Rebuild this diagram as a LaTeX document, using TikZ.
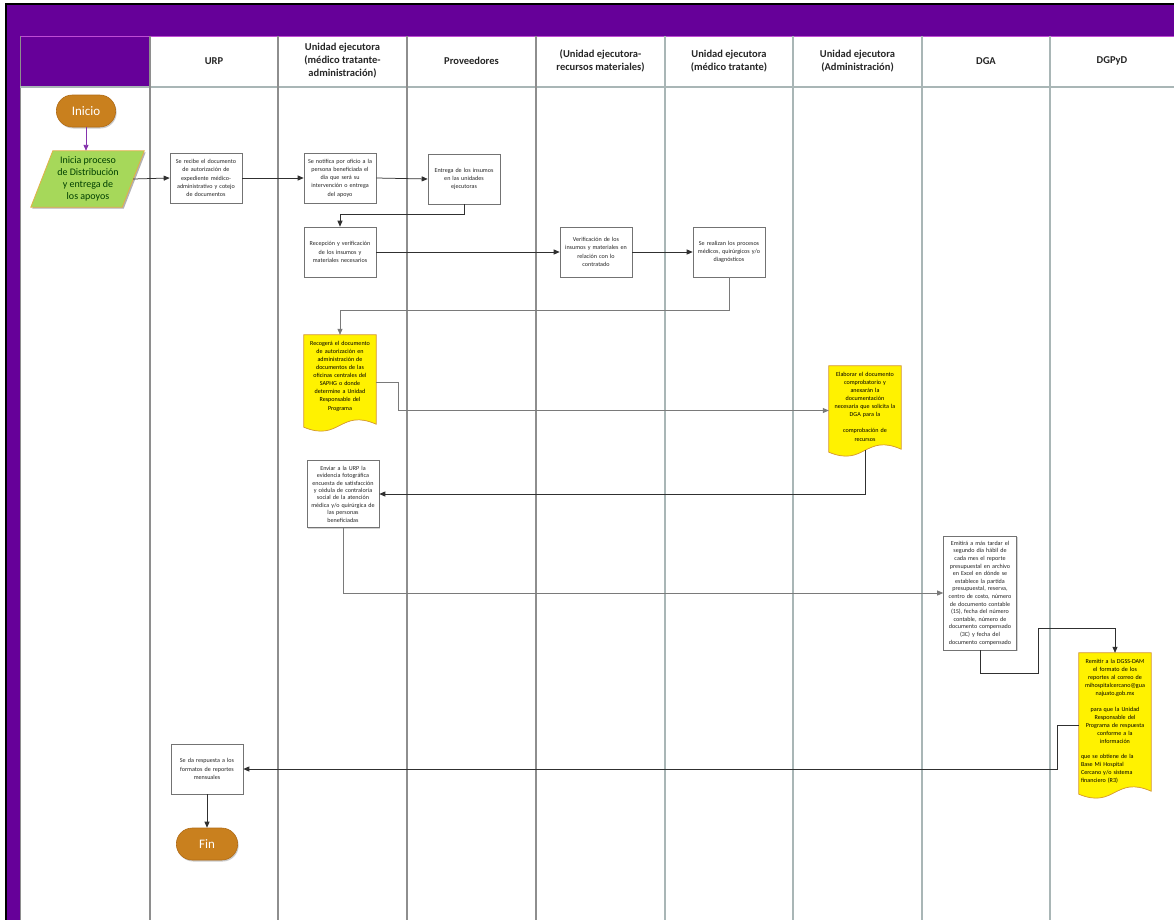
\documentclass[tikz,border=0pt]{standalone}
\usepackage{fontspec}
\setmainfont{Carlito}
\usetikzlibrary{arrows.meta,calc,shadows,shapes.misc}
\definecolor{band}{HTML}{660099}
\definecolor{termfill}{HTML}{C9801E}
\definecolor{termline}{HTML}{B06A14}
\definecolor{iofill}{HTML}{A6D85A}
\definecolor{ioline}{HTML}{E2B04A}
\definecolor{docfill}{HTML}{FFF200}
\definecolor{docline}{HTML}{D89A2E}
\definecolor{laneA}{HTML}{8E8E8E}
\definecolor{laneB}{HTML}{A9B6B6}
\definecolor{conn}{HTML}{303030}
\definecolor{connlight}{HTML}{7A7A7A}
\tikzset{
  lanelineA/.style={draw=laneA, line width=1.3pt},
  lanelineB/.style={draw=laneB, line width=1.3pt},
  hdr/.style={font=\bfseries\fontsize{10.5}{13}\selectfont, align=center, text=black!85},
  term/.style={rounded rectangle, fill=termfill, draw=termline, line width=0.6pt,
    minimum width=66pt, minimum height=32pt, text=white,
    font=\fontsize{13}{15}\selectfont, drop shadow={shadow xshift=1pt, shadow yshift=-1.5pt, fill=black!40}},
  procbox/.style={rectangle, draw=black!55, fill=white, line width=0.6pt,
    minimum width=72pt, minimum height=50pt, inner sep=1pt, align=center,
    text width=68pt, font=\fontsize{6.1}{8.3}\selectfont, text=black!85,
    drop shadow={shadow xshift=1.2pt, shadow yshift=-1.2pt, fill=black!35}},
  docarea/.style={rectangle, inner sep=2pt, align=center, text width=68pt,
    font=\fontsize{6.1}{8.1}\selectfont},
  docshape/.style={fill=docfill, draw=docline, line width=0.7pt},
  docshade/.style={fill=black!30},
  flow/.style={draw=conn, line width=0.75pt, -{Triangle[length=6pt,width=5pt]}},
  flowlight/.style={draw=connlight, line width=0.75pt, -{Triangle[length=6pt,width=5pt]}},
  startflow/.style={draw=band!80, line width=0.9pt, -{Triangle[length=6pt,width=5pt]}},
}
% document outline drawn round a node: S-shaped lower edge
\newcommand{\docoutline}[2][docshape]{%
  \path[#1] (#2.north west) -- (#2.north east) -- ($(#2.south east)+(0,-6)$)
    .. controls ($(#2.south)+(0,-22)$) and ($(#2.south)+(0,12)$) .. ($(#2.south west)+(0,-3)$) -- cycle;}
\begin{document}
\begin{tikzpicture}[x=1pt,y=-1pt]
\useasboundingbox (0,0) rectangle (1174,919);

% outer band and frame
\fill[band] (6,4) rectangle (1176,921);
\draw[black, line width=2.4pt] (6,921) -- (6,4) -- (1176,4);
% swimlane body
\fill[white] (20,36) rectangle (1176,921);
\fill[band] (20,36) rectangle (150,87);
\draw[draw=band!60!magenta!70!white, line width=0.8pt] (20,36) -- (1176,36);
\draw[draw=laneA, line width=0.8pt] (20,36) -- (20,921);
\draw[draw=laneB, line width=1.4pt] (20,87) -- (1176,87);

% lane dividers
\foreach \x in {150,278,407,536}
  \draw[lanelineA] (\x,36) -- (\x,921);
\foreach \x in {665,793,922,1050}
  \draw[lanelineB] (\x,36) -- (\x,921);

% lane headings
\node[hdr] (h1) at (214,61) {URP};
\node[hdr] (h2) at (342.5,61) {Unidad ejecutora\\(médico tratante-\\administración)};
\node[hdr] (h3) at (471.5,61) {Proveedores};
\node[hdr] (h4) at (600.5,61) {(Unidad ejecutora-\\recursos materiales)};
\node[hdr] (h5) at (729,61) {Unidad ejecutora\\(médico tratante)};
\node[hdr] (h6) at (857.5,61) {Unidad ejecutora\\(Administración)};
\node[hdr] (h7) at (986,61) {DGA};
\node[hdr] (h8) at (1112,61) {DGPyD};

% start and input
\node[term] (ini) at (86,111) {Inicio};
\node[rectangle, minimum width=90pt, minimum height=56pt, inner sep=0pt] (inp) at (88,179) {};
\fill[black!30] ($(inp.north west)+(11.5,1.5)$) -- ($(inp.north east)+(12.5,1.5)$)
  -- ($(inp.south east)+(-9.5,1.5)$) -- ($(inp.south west)+(-10.5,1.5)$) -- cycle;
\draw[fill=iofill, draw=ioline, line width=0.8pt]
  ($(inp.north west)+(10,0)$) -- ($(inp.north east)+(11,0)$)
  -- ($(inp.south east)+(-11,0)$) -- ($(inp.south west)+(-12,0)$) -- cycle;
\node[align=center, font=\fontsize{10}{12.2}\selectfont, text=black!75!green] (inptext) at (inp.center)
  {Inicia proceso\\de Distribución\\y entrega de\\los apoyos};

% process steps
\node[procbox] (b1) at (206,178) {Se recibe el documento\\de autorización de\\expediente médico-\\administrativo y cotejo\\de documentos};
\node[procbox] (b2) at (340,178) {Se notifica por oficio a la\\persona beneficiada el\\día que será su\\intervención o entrega\\del apoyo};
\node[procbox] (b3) at (464,179) {Entrega de los insumos\\en las unidades\\ejecutoras\\[4pt]};
\node[procbox] (b4) at (340,252) {Recepción y verificación\\de los insumos y\\materiales necesarios};
\node[procbox] (b5) at (596,252) {Verificación de los\\insumos y materiales en\\relación con lo\\contratado};
\node[procbox] (b6) at (729,252) {Se realizan los procesos\\médicos, quirúrgicos y/o\\diagnósticos\\[4pt]};
\node[procbox, minimum height=67pt, font=\fontsize{6.1}{7.4}\selectfont] (b7) at (343,494)
  {Enviar a la URP la\\evidencia fotográfica\\encuesta de satisfacción\\y cédula de contraloría\\social de la atención\\médica y/o quirúrgica de\\las personas\\beneficiadas};
\node[procbox, minimum width=73pt, minimum height=114pt, font=\fontsize{6.1}{7.6}\selectfont] (b8) at (980,593)
  {Emitirá a más tardar el\\segundo día hábil de\\cada mes el reporte\\presupuestal en archivo\\en Excel en dónde se\\establece la partida\\presupuestal, reserva,\\centro de costo, número\\de documento contable\\(1S), fecha del número\\contable, número de\\documento compensado\\(3C) y fecha del\\documento compensado};
\node[procbox] (b9) at (207,769) {Se da respuesta a los\\formatos de reportes\\mensuales};
\node[term, minimum width=68pt] (fin) at (207,844) {Fin};

% documents
\node[docarea, minimum width=72pt, minimum height=95pt] (d1) at (340,382.5) {};
\node[docarea, minimum width=72pt, minimum height=89pt] (d2) at (865,410.5) {};
\node[docarea, minimum width=72pt, minimum height=144pt] (d3) at (1115,725) {};
\begin{scope}[shift={(1.5,1.5)}]
  \docoutline[docshade]{d1}
  \docoutline[docshade]{d2}
  \docoutline[docshade]{d3}
\end{scope}
\docoutline{d1}
\docoutline{d2}
\docoutline{d3}
\node[docarea, anchor=north] (d1text) at ($(d1.north)+(0,4)$)
  {Recogerá el documento\\de autorización en\\administración de\\documentos de las\\oficinas centrales del\\SAPHG o donde\\determine a Unidad\\Responsable del\\Programa};
\node[docarea, anchor=north] (d2text) at ($(d2.north)+(0,4)$)
  {Elaborar el documento\\comprobatorio y\\anexarán la\\documentación\\necesaria que solicita la\\DGA para la\\[8.1pt]comprobación de\\recursos};
\node[docarea, anchor=north, font=\fontsize{6.1}{8}\selectfont] (d3text) at ($(d3.north)+(0,4)$)
  {Remitir a la DGSS-DAM\\el formato de los\\reportes al correo de\\mihospitalcercano@gua\\najuato.gob.mx\\[8pt]para que la Unidad\\Responsable del\\Programa de respuesta\\conforme a la\\información};
\node[docarea, anchor=north, align=left, font=\fontsize{6.1}{8}\selectfont] (d3tail) at ($(d3text.south)+(0,7)$)
  {que se obtiene de la\\Base Mi Hospital\\Cercano y/o sistema\\financiero (R3)};

% connectors
\coordinate (turn8) at (1038,628);
\draw[startflow] (ini.south) -- (ini.south |- inp.north);
\draw[flow] (inp.east) -- (b1.west);
\draw[flow] (b1.east) -- (b2.west);
\draw[flow] (b2.east) -- (b3.west);
\draw[flow] (b3.south) -- ++(0,10) -| (b4.north);
\draw[flow] (b4.east) -- (b5.west);
\draw[flow] (b5.east) -- (b6.west);
\draw[flowlight] (b6.south) -- ++(0,33) -| (d1.north);
\draw[flowlight] (d1.east) -- ++(22,0) |- (d2.west);
\draw[flow] ($(d2.south)+(0,-5)$) |- (b7.east);
\draw[flowlight] (b7.south) |- (b8.west);
\draw[flow] (b8.south) -- ++(0,23) -| (turn8) -| (d3.north);
\draw[flow] (d3.west) -- ++(-21,0) |- (b9.east);
\draw[flow] (b9.south) -- (fin.north);
\end{tikzpicture}
\end{document}
